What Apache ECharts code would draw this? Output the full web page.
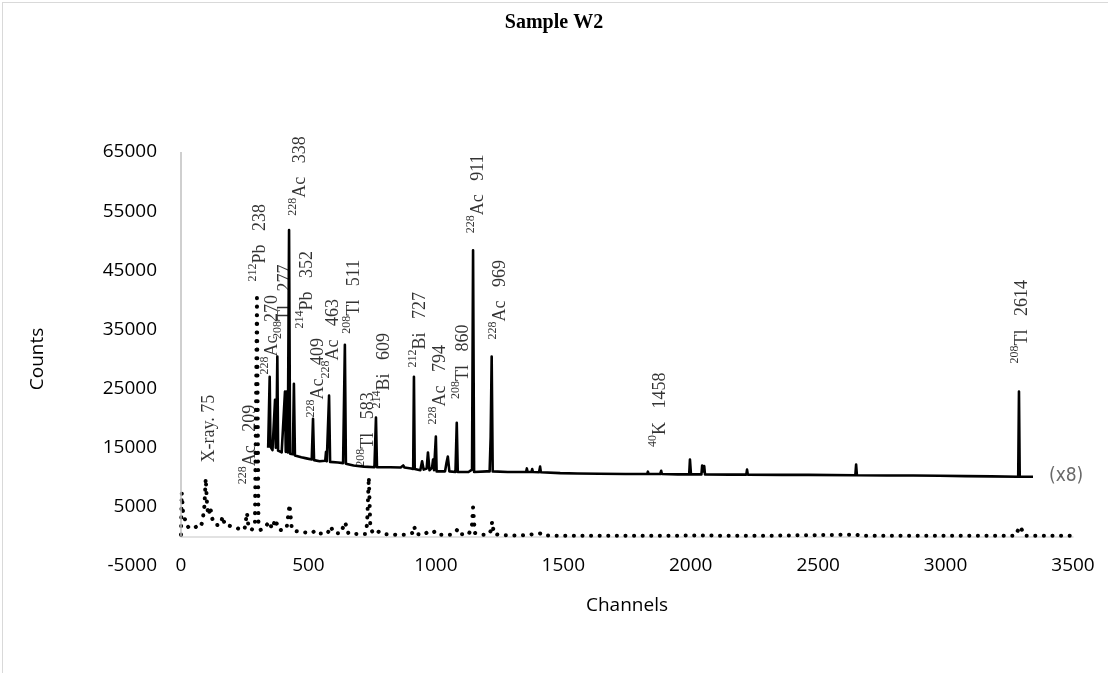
<!DOCTYPE html>
<html>
<head>
<meta charset="utf-8">
<script src="https://cdn.jsdelivr.net/npm/echarts@6.0.0/dist/echarts.min.js"></script>
<style>
html, body { margin: 0; padding: 0; background: #fff; }
#chart { width: 1108px; height: 673px; }
#frame { position: absolute; left: 2px; top: 2px; width: 1200px; height: 700px;
         border-left: 1px solid #d9d9d9; border-top: 1px solid #d9d9d9; pointer-events: none; }
</style>
</head>
<body>
<div id="chart"></div>
<div id="frame"></div>
<script>
// raw spectrum (dotted)
var rawChannels = [0, 3, 8, 14, 21, 31, 46, 62, 74, 84,
    92, 97, 103, 109, 115, 121, 128, 138, 154, 164,
    172, 190, 210, 228, 241, 250, 259, 265, 277, 290,
    298, 304, 313, 328, 347, 357, 371, 382, 400, 415,
    426, 435, 451, 482, 513, 529, 544, 575, 587, 600,
    626, 644, 657, 698, 723, 730, 737, 743, 754, 771,
    790, 841, 882, 908, 915, 923, 954, 969, 985, 1000,
    1016, 1057, 1077, 1085, 1094, 1128, 1141, 1146, 1153, 1180,
    1205, 1215, 1221, 1228, 1262, 1334, 1409, 1421, 1539, 1744,
    2052, 2257, 2649, 2667, 3078, 3273, 3292, 3312, 3495];
var rawCounts = [300, 7400, 4200, 3200, 1900, 1500, 1300, 1700, 1500, 2400,
    5200, 9800, 4800, 3600, 5000, 3200, 2400, 1900, 2000, 3400,
    1900, 1800, 1500, 1300, 1700, 1400, 4000, 1500, 1100, 1900,
    40300, 1900, 1100, 1500, 2500, 1300, 2900, 1200, 1000, 1600,
    5400, 1200, 900, 700, 600, 1000, 500, 500, 1700, 600,
    500, 2400, 500, 400, 400, 2000, 10000, 1500, 500, 900,
    400, 300, 300, 600, 1700, 400, 300, 800, 600, 900,
    300, 300, 700, 1200, 400, 300, 1500, 4900, 600, 300,
    300, 900, 2500, 400, 200, 150, 500, 150, 100, 100,
    150, 100, 300, 100, 100, 100, 1700, 100, 100];

// x8 spectrum (solid)
var x8Channels = [342, 345, 348, 351, 359, 365, 369, 372, 374, 378,
    381, 395, 408, 411, 414, 419, 424, 428, 439, 443,
    447, 472, 492, 513, 518, 522, 544, 566, 569, 572,
    581, 585, 616, 636, 643, 647, 677, 718, 759, 765,
    769, 821, 862, 872, 877, 903, 911, 914, 917, 939,
    946, 952, 964, 969, 975, 985, 989, 993, 997, 1000,
    1003, 1036, 1042, 1047, 1053, 1077, 1082, 1086, 1128, 1142,
    1146, 1150, 1200, 1211, 1215, 1219, 1223, 1282, 1354, 1357,
    1360, 1375, 1378, 1381, 1405, 1409, 1412, 1488, 1555, 1558,
    1561, 1641, 1744, 1829, 1832, 1835, 1880, 1884, 1887, 1949,
    1994, 1997, 2001, 2042, 2045, 2048, 2053, 2056, 2154, 2218,
    2221, 2224, 2360, 2462, 2646, 2649, 2652, 2770, 2873, 2975,
    3078, 3180, 3285, 3288, 3291, 3343];
var x8Counts = [15000, 15000, 27000, 15200, 14600, 14800, 23100, 15000, 15500, 30400,
    14500, 14200, 24500, 14300, 24500, 14200, 51800, 14000, 13900, 25800,
    13700, 13400, 13200, 13000, 19900, 12900, 12700, 12800, 14300, 12700,
    23800, 12600, 12500, 12400, 32400, 12300, 12000, 11800, 11700, 20100,
    11700, 11700, 11650, 12000, 11650, 11500, 11400, 27000, 11400, 11200,
    12700, 11300, 11500, 14200, 11200, 11600, 13000, 11200, 11300, 16900,
    11000, 11000, 12500, 13500, 11000, 10900, 19200, 10900, 10900, 11300,
    48400, 10900, 11000, 11000, 16700, 30400, 11000, 10900, 10900, 11500,
    10900, 10900, 11400, 10900, 10850, 11800, 10850, 10700, 10650, 10950,
    10650, 10600, 10550, 10550, 10950, 10550, 10550, 11100, 10550, 10500,
    10500, 13000, 10500, 10500, 12000, 11000, 11900, 10500, 10450, 10450,
    11300, 10450, 10400, 10400, 10350, 12150, 10350, 10300, 10300, 10250,
    10200, 10150, 10100, 24500, 10100, 10100];

// peak annotations (centre of each rotated label)
var labelChannels = [103, 263, 302, 349, 400, 459, 486, 529, 589, 671, 726, 789, 930, 1008, 1099, 1157, 1244, 1872, 3292];
var labelCounts = [18230, 15530, 49640, 34100, 39700, 60950, 41700, 26840, 33430, 40520, 18070, 28030, 34950, 25660, 29550, 57910, 40010, 21440, 36300];
var labelMass = ['', '228', '212', '228', '208', '228', '214', '228', '228', '208', '208', '214', '212', '228', '208', '228', '228', '40', '208'];
var labelElement = ['X-ray.', 'Ac', 'Pb', 'Ac', 'Tl', 'Ac', 'Pb', 'Ac', 'Ac', 'Tl', 'Tl', 'Bi', 'Bi', 'Ac', 'Tl', 'Ac', 'Ac', 'K', 'Tl'];
var labelEnergy = ['75', '209', '238', '270', '277', '338', '352', '409', '463', '511', '583', '609', '727', '794', '860', '911', '969', '1458', '2614'];

var scaleNote = '(x8)';
var scaleNotePos = [3473, 10130];

function zip(a, b) {
    return a.map(function (v, i) { return [v, b[i]]; });
}

var chart = echarts.init(document.getElementById('chart'));

var serif = 'Liberation Serif';
var sans = 'Open Sans';

var option = {
    animation: false,
    title: {
        text: 'Sample W2',
        left: 'center',
        top: 8,
        textStyle: { fontFamily: serif, fontWeight: 'bold', fontSize: 20, color: '#000' }
    },
    grid: { left: 181, right: 35, top: 152, bottom: 107, outerBoundsMode: 'none' },
    xAxis: {
        type: 'value',
        min: 0,
        max: 3500,
        interval: 500,
        name: 'Channels',
        nameLocation: 'middle',
        nameGap: 30,
        nameTextStyle: { fontFamily: sans, fontSize: 19, color: '#000' },
        axisLine: { onZero: true, lineStyle: { color: '#d9d9d9', width: 1.5 } },
        axisTick: { show: false },
        splitLine: { show: false },
        axisLabel: { margin: -10, fontFamily: sans, fontSize: 19, color: '#000', formatter: function (v) { return String(v); } }
    },
    yAxis: {
        type: 'value',
        min: -5000,
        max: 65000,
        interval: 10000,
        name: 'Counts',
        nameLocation: 'middle',
        nameGap: 134,
        nameTextStyle: { fontFamily: sans, fontSize: 19, color: '#000' },
        axisLine: { show: false },
        axisTick: { show: false },
        splitLine: { show: false },
        axisLabel: { margin: 24, fontFamily: sans, fontSize: 19, color: '#000', formatter: function (v) { return String(v); } }
    },
    series: [
        {
            name: 'raw',
            type: 'line',
            data: zip(rawChannels, rawCounts),
            showSymbol: false,
            silent: true,
            lineStyle: { color: '#000', width: 4, type: [0.1, 8.5], cap: 'round', join: 'round' },
            z: 2,
            markLine: {
                silent: true,
                symbol: ['none', 'none'],
                label: { show: false },
                lineStyle: { color: '#bfbfbf', width: 1.5, type: 'solid' },
                data: [[{ coord: [0, 0] }, { coord: [0, 65000] }]]
            }
        },
        {
            name: 'x8',
            type: 'line',
            data: zip(x8Channels, x8Counts),
            showSymbol: false,
            silent: true,
            lineStyle: { color: '#000', width: 2.6, join: 'round' },
            z: 3
        },
        {
            name: 'peaks',
            type: 'scatter',
            silent: true,
            symbolSize: 1,
            itemStyle: { color: 'rgba(0,0,0,0)' },
            data: zip(labelChannels, labelCounts),
            z: 5,
            label: {
                show: true,
                position: 'inside',
                rotate: 90,
                align: 'center',
                verticalAlign: 'middle',
                formatter: function (p) {
                    var i = p.dataIndex;
                    if (!labelMass[i]) return '{t|' + labelElement[i] + ' ' + labelEnergy[i] + '}';
                    return '{s|' + labelMass[i] + '}{t|' + labelElement[i] + '   ' + labelEnergy[i] + '}';
                },
                rich: {
                    s: { fontFamily: serif, fontSize: 12, lineHeight: 12, verticalAlign: 'top', color: '#000' },
                    t: { fontFamily: serif, fontSize: 18, lineHeight: 22, verticalAlign: 'bottom', color: '#000' }
                }
            }
        },
        {
            name: 'note',
            type: 'scatter',
            silent: true,
            symbolSize: 1,
            itemStyle: { color: 'rgba(0,0,0,0)' },
            data: [scaleNotePos],
            label: {
                show: true,
                position: 'inside',
                formatter: scaleNote,
                fontFamily: 'DejaVu Sans Condensed',
                fontSize: 19,
                color: '#444'
            }
        }
    ]
};

chart.setOption(option);
</script>
</body>
</html>
